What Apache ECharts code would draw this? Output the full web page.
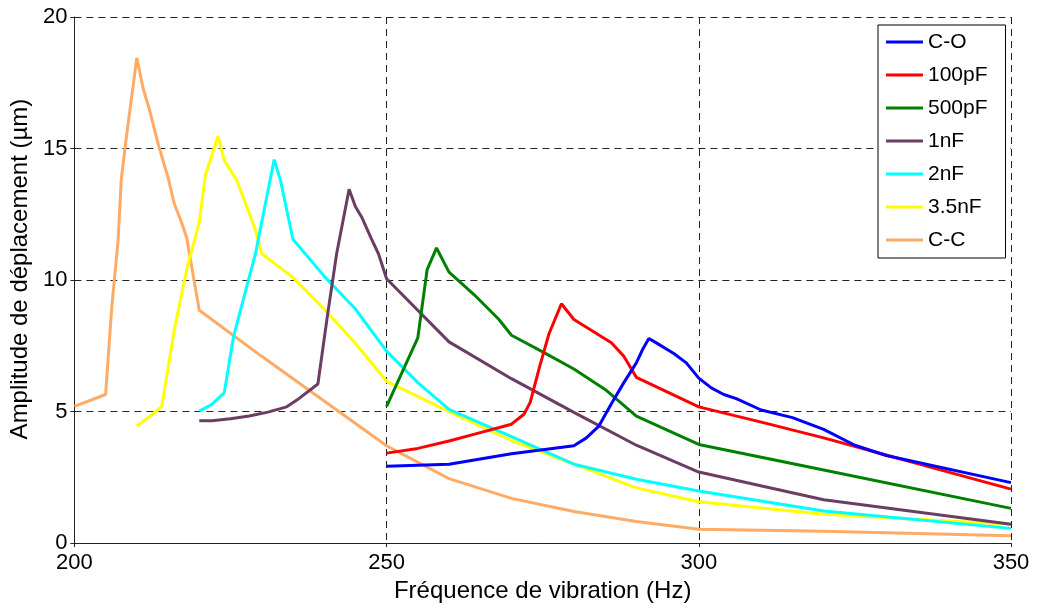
<!DOCTYPE html>
<html>
<head>
<meta charset="utf-8">
<script src="https://cdn.jsdelivr.net/npm/echarts@6/dist/echarts.min.js"></script>
<style>
html,body{margin:0;padding:0;background:#fff;}
#chart{width:1037px;height:608px;}
</style>
</head>
<body>
<div id="chart"></div>
<script>
// Series names
const seriesNames = ['C-O', '100pF', '500pF', '1nF', '2nF', '3.5nF', 'C-C'];

// C-O
const freqCO = [250,260,265,270,280,282,284,286,288,290,291,292,293,296,298,300,302,304,306,310,315,320,325,330,350];
const ampCO  = [2.92,3.0,3.2,3.4,3.7,4.0,4.45,5.3,6.1,6.85,7.36,7.78,7.64,7.21,6.85,6.27,5.9,5.65,5.49,5.06,4.77,4.32,3.72,3.33,2.3];

// 100pF
const freq100p = [250,255,260,265,270,272,273,274.5,276,278,280,286,288,290,300,310,320,330,340,350];
const amp100p  = [3.42,3.6,3.88,4.2,4.52,4.9,5.35,6.7,7.95,9.1,8.5,7.62,7.1,6.3,5.18,4.6,4.0,3.35,2.7,2.05];

// 500pF
const freq500p = [250,255,256.5,258,260,264,268,270,275,280,285,290,300,320,350];
const amp500p  = [5.2,7.8,10.4,11.22,10.3,9.45,8.5,7.9,7.27,6.62,5.84,4.83,3.75,2.78,1.32];

// 1nF
const freq1n = [220,222,225,228,231,234,236,239,240.5,242,244,245,246,247.5,248.7,250,260,270,280,290,300,320,350];
const amp1n  = [4.65,4.65,4.73,4.83,4.98,5.18,5.5,6.05,8.6,11.0,13.45,12.8,12.4,11.6,11.0,10.05,7.65,6.25,4.97,3.72,2.7,1.65,0.72];

// 2nF
const freq2n = [220,222,224,225.5,229,232,233,235,240,245,250,255,260,270,280,290,300,320,350];
const amp2n  = [5.02,5.27,5.71,7.86,11.0,14.58,13.8,11.55,10.15,8.9,7.3,6.1,5.08,4.05,3.0,2.43,1.98,1.22,0.56];

// 3.5nF
const freq35n = [210,212,214,216,218,220,221,223,224,226,229,230,235,240,245,250,260,270,280,290,300,320,350];
const amp35n  = [4.45,4.8,5.2,8.1,10.4,12.2,14.0,15.47,14.55,13.8,11.9,11.0,10.1,8.9,7.6,6.15,5.0,3.9,3.0,2.1,1.57,1.1,0.72];

// C-C
const freqCC = [200,205,206,207,207.5,208.2,210,211,212,213.5,215,216,217,218,220,230,240,250,260,270,280,290,300,320,350];
const ampCC  = [5.2,5.65,9.0,11.5,13.8,15.2,18.45,17.3,16.5,15.1,13.9,12.9,12.3,11.6,8.85,7.1,5.4,3.7,2.45,1.7,1.2,0.82,0.53,0.45,0.28];

// Axis ticks
const xTicks = [200, 250, 300, 350];
const yTicks = [0, 5, 10, 15, 20];

const colors = ['#0000ff', '#ff0000', '#008000', '#6b3d63', '#00ffff', '#ffff00', '#ffab66'];

const freqs = [freqCO, freq100p, freq500p, freq1n, freq2n, freq35n, freqCC];
const amps = [ampCO, amp100p, amp500p, amp1n, amp2n, amp35n, ampCC];

const FONT = 'Liberation Sans, Arial, sans-serif';

const chart = echarts.init(document.getElementById('chart'), null, {renderer: 'canvas'});

const series = seriesNames.map((name, i) => ({
  name: name,
  type: 'line',
  data: freqs[i].map((f, j) => [f, amps[i][j]]),
  showSymbol: false,
  symbol: 'none',
  lineStyle: {color: colors[i], width: 3},
  itemStyle: {color: colors[i]},
  z: 10 - i,
  animation: false
}));

const dashStyle = {color: '#222', width: 1, type: [7, 5]};

chart.setOption({
  animation: false,
  backgroundColor: '#fff',
  color: colors,
  grid: {left: 74, right: 26, top: 17, bottom: 64, containLabel: false},
  legend: {
    orient: 'vertical',
    left: 878,
    top: 25,
    data: seriesNames,
    icon: 'rect',
    itemWidth: 37,
    itemHeight: 3,
    itemGap: 11,
    padding: [6, 18, 7, 8],
    borderColor: '#000',
    borderWidth: 1,
    backgroundColor: '#fff',
    textStyle: {fontFamily: FONT, fontSize: 21, color: '#000', lineHeight: 22},
    selectedMode: false
  },
  xAxis: {
    type: 'value',
    min: xTicks[0],
    max: xTicks[xTicks.length - 1],
    interval: 50,
    name: 'Fréquence de vibration (Hz)',
    nameLocation: 'middle',
    nameGap: 34,
    nameTextStyle: {fontFamily: FONT, fontSize: 24, color: '#000'},
    axisLine: {show: true, onZero: false, lineStyle: {color: '#222', width: 1}},
    axisTick: {show: true, inside: false, length: 4, lineStyle: {color: '#222'}},
    axisLabel: {fontFamily: FONT, fontSize: 22, color: '#000', margin: 9},
    splitLine: {show: true, lineStyle: dashStyle}
  },
  yAxis: {
    type: 'value',
    min: yTicks[0],
    max: yTicks[yTicks.length - 1],
    interval: 5,
    name: 'Amplitude de déplacement (µm)',
    nameLocation: 'middle',
    nameGap: 32,
    nameTextStyle: {fontFamily: FONT, fontSize: 24, color: '#000', padding: [0, 0, 0, 22]},
    axisLine: {show: true, onZero: false, lineStyle: {color: '#222', width: 1}},
    axisTick: {show: true, inside: false, length: 4, lineStyle: {color: '#222'}},
    axisLabel: {fontFamily: FONT, fontSize: 22, color: '#000', margin: 7},
    splitLine: {show: true, lineStyle: dashStyle}
  },
  series: series
});
</script>
</body>
</html>
